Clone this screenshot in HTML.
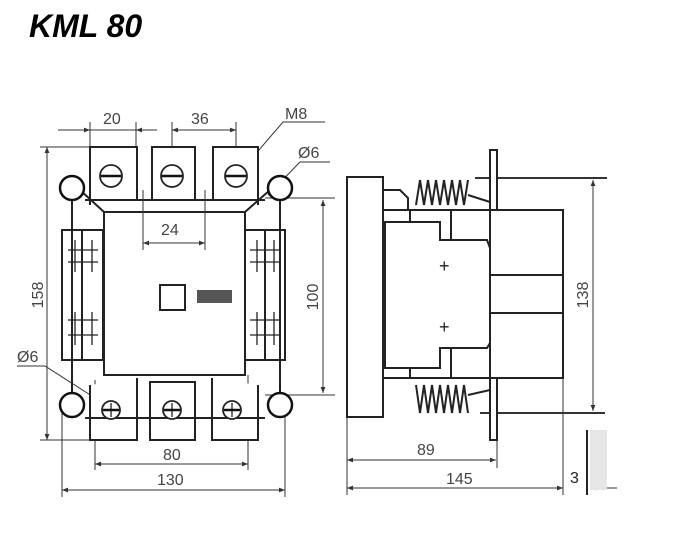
<!DOCTYPE html>
<html><head><meta charset="utf-8"><style>
html,body{margin:0;padding:0;background:#fff;width:690px;height:555px;overflow:hidden}
svg{display:block}
text{font-family:"Liberation Sans",sans-serif;fill:#444}
</style></head><body>
<svg width="690" height="555" viewBox="0 0 690 555" xmlns="http://www.w3.org/2000/svg">
<defs>
<marker id="a" viewBox="0 0 10 10" refX="10" refY="5" markerWidth="8" markerHeight="6" orient="auto-start-reverse"><path d="M0,1 L10,5 L0,9 z" fill="#333"/></marker>
</defs>
<text x="29" y="37" style="font-size:32px;font-weight:bold;font-style:italic;fill:#000">KML 80</text>

<g stroke="#333" stroke-width="1" fill="none">
<line x1="58" y1="130" x2="90" y2="130" marker-end="url(#a)"/>
<line x1="157" y1="130" x2="136" y2="130" marker-end="url(#a)"/>
<line x1="90" y1="130" x2="136" y2="130"/>
<line x1="90" y1="122" x2="90" y2="205"/>
<line x1="136" y1="122" x2="136" y2="150"/>
<line x1="172" y1="130" x2="236" y2="130" marker-start="url(#a)" marker-end="url(#a)"/>
<line x1="172" y1="122" x2="172" y2="170"/>
<line x1="236" y1="122" x2="236" y2="170"/>
<polyline points="325,122 283,122 240,172"/>
<polyline points="330,162 300,162 268,195"/>
<line x1="47" y1="147" x2="47" y2="440" marker-start="url(#a)" marker-end="url(#a)"/>
<line x1="40" y1="147" x2="90" y2="147"/>
<line x1="40" y1="440" x2="90" y2="440"/>
<line x1="323" y1="200" x2="323" y2="393" marker-start="url(#a)" marker-end="url(#a)"/>
<line x1="265" y1="198" x2="335" y2="198"/>
<line x1="265" y1="395" x2="335" y2="395"/>
<line x1="95" y1="464" x2="248" y2="464" marker-start="url(#a)" marker-end="url(#a)"/>
<line x1="95" y1="380" x2="95" y2="470"/>
<line x1="248" y1="375" x2="248" y2="470"/>
<line x1="62" y1="490" x2="285" y2="490" marker-start="url(#a)" marker-end="url(#a)"/>
<line x1="62" y1="410" x2="62" y2="497"/>
<line x1="285" y1="410" x2="285" y2="497"/>
<polyline points="17,366 45,366 95,398"/>
</g>

<g stroke="#222" stroke-width="2" fill="#fff">
<polyline points="90,205 90,147 137,147 137,200"/>
<polygon points="152,147 195,147 195,200 152,200"/>
<polyline points="213,200 213,147 258,147 258,205"/>
<line x1="85" y1="200" x2="265" y2="200"/>
<rect x="62" y="230" width="41" height="130"/>
<rect x="245" y="230" width="40" height="130"/>
<line x1="82" y1="230" x2="82" y2="360"/>
<line x1="265" y1="230" x2="265" y2="360"/>
<line x1="72" y1="195" x2="72" y2="400"/>
<line x1="280" y1="195" x2="280" y2="400"/>
<rect x="104" y="212" width="141" height="163"/>
<polyline points="80,190 104,212"/>
<polyline points="270,190 245,212"/>
<polyline points="90,385 90,440 137,440 137,378"/>
<polygon points="150,382 195,382 195,440 150,440"/>
<polyline points="212,378 212,440 258,440 258,385"/>
<line x1="85" y1="418" x2="265" y2="418"/>
</g>
<g stroke="#333" stroke-width="1" fill="none">
<line x1="143" y1="243" x2="205" y2="243" marker-start="url(#a)" marker-end="url(#a)"/>
<line x1="143" y1="190" x2="143" y2="250"/>
<line x1="205" y1="190" x2="205" y2="250"/>
</g>
<g stroke="#222" stroke-width="1.3" fill="none">
<line x1="68" y1="250" x2="98" y2="250"/><line x1="68" y1="262" x2="98" y2="262"/>
<line x1="68" y1="320" x2="98" y2="320"/><line x1="68" y1="335" x2="98" y2="335"/>
<line x1="250" y1="250" x2="280" y2="250"/><line x1="250" y1="262" x2="280" y2="262"/>
<line x1="250" y1="320" x2="280" y2="320"/><line x1="250" y1="335" x2="280" y2="335"/>
<line x1="75" y1="240" x2="75" y2="272"/><line x1="92" y1="240" x2="92" y2="272"/>
<line x1="75" y1="312" x2="75" y2="345"/><line x1="92" y1="312" x2="92" y2="345"/>
<line x1="257" y1="240" x2="257" y2="272"/><line x1="274" y1="240" x2="274" y2="272"/>
<line x1="257" y1="312" x2="257" y2="345"/><line x1="274" y1="312" x2="274" y2="345"/>
</g>
<g stroke="#111" stroke-width="2.5" fill="#fff">
<circle cx="72" cy="188" r="12"/><circle cx="280" cy="188" r="12"/>
<circle cx="72" cy="405" r="12"/><circle cx="280" cy="405" r="12"/>
</g>
<g stroke="#222" stroke-width="1.8" fill="#fff">
<circle cx="111" cy="176" r="11"/><circle cx="172" cy="176" r="11"/><circle cx="236" cy="176" r="11"/>
<circle cx="111" cy="410" r="9"/><circle cx="172" cy="410" r="9"/><circle cx="232" cy="410" r="9"/>
</g>
<g stroke="#111" stroke-width="2.5">
<line x1="101" y1="176" x2="121" y2="176"/><line x1="162" y1="176" x2="182" y2="176"/><line x1="226" y1="176" x2="246" y2="176"/>
<line x1="103" y1="410" x2="119" y2="410"/><line x1="164" y1="410" x2="180" y2="410"/><line x1="224" y1="410" x2="240" y2="410"/>
<line x1="111" y1="403" x2="111" y2="417" stroke-width="1.2"/><line x1="172" y1="403" x2="172" y2="417" stroke-width="1.2"/><line x1="232" y1="403" x2="232" y2="417" stroke-width="1.2"/>
</g>
<rect x="160" y="285" width="25" height="25" fill="#fff" stroke="#222" stroke-width="2"/>
<rect x="197" y="290" width="35" height="13" fill="#555"/>

<g stroke="#333" stroke-width="1" fill="none">
<line x1="593" y1="180" x2="593" y2="411" marker-start="url(#a)" marker-end="url(#a)"/>
<line x1="475" y1="178" x2="607" y2="178" stroke-width="2"/>
<line x1="480" y1="413" x2="605" y2="413" stroke-width="2"/>
<line x1="347" y1="460" x2="496" y2="460" marker-start="url(#a)" marker-end="url(#a)"/>
<line x1="347" y1="488" x2="563" y2="488" marker-start="url(#a)" marker-end="url(#a)"/>
<line x1="347" y1="417" x2="347" y2="495"/>
<line x1="497" y1="440" x2="497" y2="468"/>
<line x1="563" y1="378" x2="563" y2="495"/>
<line x1="590" y1="488" x2="617" y2="488" marker-start="url(#a)"/>
</g>
<rect x="590" y="430" width="17" height="60" fill="#e6e6e6"/>
<line x1="587" y1="430" x2="587" y2="495" stroke="#222" stroke-width="2"/>
<g stroke="#222" stroke-width="2" fill="#fff">
<rect x="490" y="150" width="7" height="290"/>
<rect x="490" y="210" width="73" height="168"/>
<line x1="490" y1="275" x2="563" y2="275"/>
<line x1="490" y1="313" x2="563" y2="313"/>
<line x1="380" y1="210" x2="550" y2="210"/>
<line x1="380" y1="378" x2="563" y2="378"/>
<polygon points="385,222 440,222 440,240 487,240 490,248 490,343 487,348 440,348 440,368 385,368"/>
<line x1="410" y1="210" x2="410" y2="222"/><line x1="451" y1="210" x2="451" y2="240"/>
<line x1="410" y1="368" x2="410" y2="378"/><line x1="451" y1="348" x2="451" y2="378"/>
<polyline points="380,190 400,190 408,198 408,210" fill="none"/>
<rect x="347" y="177" width="36" height="240"/>
</g>
<g stroke="#222" stroke-width="2" fill="none">
<polyline points="416,205 420,180 424,205 428,180 432,205 436,180 440,205 444,180 448,205 452,180 456,205 460,180 464,205 468,180"/>
<polyline points="468,195 490,202"/>
<polyline points="416,385 420,413 424,385 428,413 432,385 436,413 440,385 444,413 448,385 452,413 456,385 460,413 464,385 468,413"/>
<polyline points="468,395 490,390"/>
</g>
<text x="439" y="272" style="font-size:18px;fill:#222">+</text>
<text x="439" y="333" style="font-size:18px;fill:#222">+</text>

<g style="font-size:16px">
<text x="103" y="124">20</text>
<text x="191" y="124">36</text>
<text x="285" y="119">M8</text>
<text x="298" y="158">Ø6</text>
<text x="161" y="235">24</text>
<text x="17" y="362">Ø6</text>
<text x="163" y="460">80</text>
<text x="157" y="485">130</text>
<text transform="translate(43,295) rotate(-90)" text-anchor="middle">158</text>
<text transform="translate(318,297) rotate(-90)" text-anchor="middle">100</text>
<text transform="translate(588,295) rotate(-90)" text-anchor="middle">138</text>
<text x="417" y="455">89</text>
<text x="446" y="484">145</text>
<text x="570" y="483" style="fill:#222">3</text>
</g>
</svg>
</body></html>
